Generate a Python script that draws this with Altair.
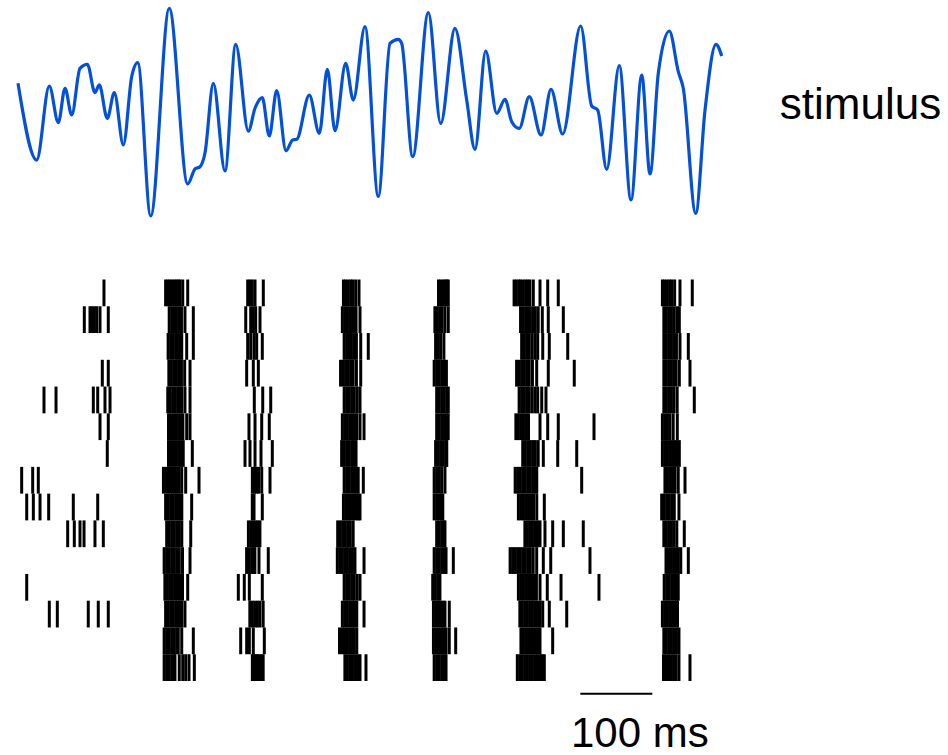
import altair as alt
import pandas as pd

# ---------------- data ----------------
# stimulus waveform (time in ms, amplitude in arbitrary units)
stim_t = [0, 26, 43.5, 56, 65.3, 74.6, 86.1, 96.3, 106.9, 112.9, 124, 133.8, 146.3, 157.9, 166.3,
          184.3, 210.1, 235.7, 245.8, 252.8, 259.7, 271.3, 287.5, 302.4, 319.9, 329.2, 339.3, 349,
          359.3, 372.2, 381.5, 387.1, 404.6, 418.5, 429.6, 440.3, 455.1, 465.7, 481.9, 500.4, 516.7,
          528.2, 532.9, 548.2, 569.9, 587.1, 606.9, 623.2, 634.7, 649.6, 664.9, 676.4, 685.7, 696.2,
          710.1, 726.4, 740.3, 756.5, 781.5, 796.8, 805.1, 817.6, 835.1, 851.4, 866.3, 877.8, 889.3,
          904.6, 917.1, 924, 941.3, 954.2, 969.4, 977.4]
stim_v = [0.276, -0.462, 0.25, -0.103, 0.228, -0.029, 0.42, 0.459, 0.186, 0.26, -0.061, 0.186, -0.317,
          0.339, 0.474, -1.0, 0.997, -0.692, -0.548, -0.526, -0.394, 0.276, -0.567, 0.651, -0.183,
          0.036, 0.1375, -0.231, 0.205, -0.372, -0.269, -0.2625, 0.163, -0.205, 0.41, -0.18, 0.468,
          0.115, 0.82, -0.8125, 0.66, 0.699, 0.66, -0.43, 0.955, -0.109, 0.805, 0.115, -0.359, 0.5865,
          -0.0125, 0.122, -0.093, -0.157, 0.147, -0.221, 0.218, -0.2115, 0.827, 0.058, 0.019, -0.551,
          0.445, -0.846, 0.356, -0.596, 0.372, 0.779, 0.3875, 0.228, -0.974, 0.019, 0.651, 0.538]

# spike times (ms) for each of the 15 trials, top to bottom
spikes = [
    [119.4, 205, 208, 211, 214, 217, 220, 222.5, 225, 228.8, 235.7, 319, 322.2, 325.4, 329.2, 340.7,
     452, 455, 458.5, 462, 465, 469, 473.6, 584, 587, 590.5, 593, 595.5, 597.6,
     689, 692, 695.5, 698, 701.5, 705, 708, 711, 715.7, 725, 735.7, 750.4,
     895, 898, 901.5, 905, 908, 912, 919.4, 936.5],
    [92.1, 100, 102.4, 106, 109.3, 113.9, 125.4, 210, 213.5, 217, 220, 223.5, 227, 231.9, 243.5,
     316.3, 323.2, 326.8, 330.1, 336.1, 450.5, 454, 457, 460.5, 464, 467, 469.5, 475,
     579, 582.5, 586, 589, 593, 597.6, 698, 701.5, 705, 708, 711.5, 715, 718.5, 722.5, 728.2, 736.5, 757.4,
     897, 900.5, 904, 907.5, 911, 915, 918.5],
    [208.5, 212, 215.5, 219, 222, 225, 227.4, 234.3, 243.5, 319, 323.2, 327.8, 331.5, 339.3,
     453, 456.5, 460, 463, 466.5, 470, 476, 486.5, 580, 583.5, 587, 591.5,
     699.5, 703, 706.5, 710, 714, 718, 721.8, 728.8, 737.9, 763.5,
     897, 900.5, 904, 907.5, 911, 914.5, 919.4, 931],
    [117.1, 125.4, 209.5, 213, 216.5, 220, 223.5, 227, 231.5, 238.9, 317.6, 326.8, 333.8,
     448, 451.5, 455, 458.5, 462, 465.5, 470, 476, 578, 581.5, 585, 588.5, 592, 595,
     692.5, 696, 699.5, 703, 706.5, 710, 714.5, 720.4, 736.5, 772.6,
     897, 900.5, 904, 907.5, 911, 914, 918.5, 933.3],
    [36.1, 52.8, 104.6, 110.7, 120.8, 127.8, 208, 211.5, 215, 218.5, 222, 225, 227.5, 231.9, 238.9,
     328.2, 339.9, 351, 453, 456.5, 460, 463.5, 467, 471, 475, 581.5, 585, 588.5, 592, 595.5, 597.6,
     696, 699.5, 703, 706.5, 710, 714, 718, 721.8, 727.4, 733.3,
     897, 900.5, 904, 907.5, 911, 915.5, 939.3],
    [113.9, 125.4, 209, 212.5, 216, 219.5, 223, 226, 229, 234.3, 238.9, 320.8, 329.2, 338.5, 349,
     450.5, 454, 457.5, 461, 464.5, 467.5, 470.5, 475, 480.6, 581.5, 585, 588.5, 592, 595, 597.5,
     691.5, 695, 698.5, 702, 705.5, 709, 725, 735.7, 750.4, 800,
     895, 898.5, 902, 905.5, 910, 915.7],
    [124, 209, 212.5, 216, 219.5, 223, 226.5, 229.5, 242.1, 315.3, 322.2, 329.2, 337.5, 353.2,
     449.5, 453, 456.5, 460, 463.5, 466.5, 469.5, 580, 583.5, 587, 590.5, 594, 595.5,
     701, 704.5, 708, 711.5, 715, 718.5, 722.5, 729.6, 749.6, 776,
     895, 898.5, 902, 905.5, 909, 912, 915, 918.5],
    [5.1, 20.4, 28.2, 202, 205.5, 209, 212, 215, 218, 220.4, 223.6, 227.4, 232.9, 251.4,
     325.5, 328.5, 331, 334, 338.5, 350, 453, 456.5, 460, 463.5, 467, 470, 472.5, 479.6,
     578, 581.5, 585, 588.5, 593, 690.5, 694, 697.5, 701, 704.5, 708, 711.5, 715, 718, 720.5, 782.9,
     898.5, 902, 905.5, 909, 912.5, 917, 926.4],
    [12.1, 21.3, 30.6, 42.6, 76.8, 110.7, 205, 208.5, 212, 215.5, 219, 222.5, 225, 227.5, 241.2,
     325.4, 327.8, 339.3, 452, 455.5, 459, 462.5, 466, 469.5, 472.5, 475, 578, 581.5, 585, 588, 590,
     695, 698.5, 702, 705.5, 709, 712.5, 716, 720.5, 731,
     894, 897.5, 901, 904.5, 908, 911.5, 918],
    [69, 78.2, 86.1, 91.7, 106.9, 118.5, 206.5, 210, 213.5, 217, 220.5, 224, 227.5, 239.9,
     320, 323.5, 327, 330, 333, 336, 444, 447.5, 451, 454.5, 458, 461.5, 465.5,
     581.5, 585, 588.5, 591.5, 593, 704, 707.5, 711, 714.5, 718, 721.5, 725, 731.9, 742.6, 757.4, 785.1,
     897, 900.5, 904, 907.5, 911, 915, 925.4],
    [203, 206.5, 210, 213.5, 217, 220.5, 224, 228.5, 238.9, 317.5, 321, 324.5, 327, 329, 334.7, 347.6,
     443.5, 447, 450.5, 454, 457.5, 461, 464.5, 468, 480.6, 578, 581.5, 585, 588.5, 592, 594.5, 604.6,
     683.5, 687, 690.5, 694, 697.5, 701, 704.5, 708, 711.5, 715.5, 720.4, 729.6, 739.9, 794.4,
     900, 903.5, 907, 910.5, 914, 917, 920.5, 931],
    [12.1, 204, 207.5, 211, 214.5, 218, 221.5, 225, 228.5, 235.7, 306, 314.3, 321.3, 339.3,
     453, 456.5, 460, 463.5, 467, 471, 475, 576, 579.5, 583, 586,
     695, 698.5, 702, 705.5, 709, 712.5, 716, 720, 725, 735.1, 754.2, 806.9,
     897.5, 901, 904.5, 908, 911.5, 914.5, 917],
    [43.5, 54.6, 97.6, 111.5, 125.4, 205, 208.5, 212, 215.5, 219, 222.5, 225.5, 227.5, 231.9,
     322, 325.5, 329, 332.5, 336, 340.5, 450.5, 454, 457.5, 461, 464.5, 467.5, 470.5, 480.6,
     577, 580.5, 584, 587.5, 590.5, 593, 599, 697, 700.5, 704, 707.5, 711, 714.5, 718, 721.5, 725,
     728.8, 737.9, 762.1, 895, 898.5, 902, 905.5, 909, 912.5, 916],
    [203, 206.5, 210, 213.5, 217, 220.5, 222.6, 227.4, 243.5, 309.3, 317.6, 321.3, 326.8, 342.1,
     446.5, 450, 453.5, 457, 460.5, 464, 467, 470.5, 577, 580.5, 584, 587.5, 591, 594.5, 599, 607.9,
     698.5, 702, 705.5, 709, 712.5, 716, 719.5, 722.5, 725, 742.6,
     897, 900.5, 904, 907.5, 911, 914.5, 918],
    [203, 206.5, 210, 213.5, 217, 218, 224, 228.8, 232.9, 237.5, 244.9,
     325.5, 327.5, 329.5, 332, 334.5, 337.5, 340.5, 454, 457.5, 461, 464.5, 468, 471.5, 475, 483.3,
     578, 581.5, 585, 588.5, 592, 594.5, 693.5, 697, 700.5, 704, 707.5, 711, 714.5, 718, 721.5, 725,
     727.5, 731, 896.5, 900, 903.5, 907, 910.5, 914, 918, 933.3],
]

scale_bar_ms = [781, 881]
scale_bar_label = "100 ms"
stim_label = "stimulus"

# ---------------- tables ----------------
stim_df = pd.DataFrame({"t": stim_t, "v": stim_v})
spk_rows = []
for i, ts in enumerate(spikes):
    for t in ts:
        spk_rows.append({"trial": i, "t": t})
spk_df = pd.DataFrame(spk_rows)
n_trials = len(spikes)

x_scale = alt.Scale(domain=[0, 1000], range=[18, 738])
stim_y = alt.Scale(domain=[-1, 1], range=[216, 8])
raster_y = alt.Scale(domain=[0, n_trials], range=[279.5, 681])

stim = alt.Chart(stim_df).mark_line(
    color="#0350DB", strokeWidth=3.2, interpolate="monotone"
).encode(
    x=alt.X("t:Q", scale=x_scale, axis=None),
    y=alt.Y("v:Q", scale=stim_y, axis=None),
)

raster = alt.Chart(spk_df).transform_calculate(
    trial_end="datum.trial + 1"
).mark_rule(color="black", strokeWidth=3, strokeCap="butt").encode(
    x=alt.X("t:Q", scale=x_scale, axis=None),
    y=alt.Y("trial:Q", scale=raster_y, axis=None),
    y2="trial_end:Q",
)

bar_df = pd.DataFrame({"t0": [scale_bar_ms[0]], "t1": [scale_bar_ms[1]], "trial": [n_trials + 0.48]})
bar = alt.Chart(bar_df).mark_rule(color="black", strokeWidth=2).encode(
    x=alt.X("t0:Q", scale=x_scale, axis=None),
    x2="t1:Q",
    y=alt.Y("trial:Q", scale=raster_y, axis=None),
)

bar_text_df = pd.DataFrame({"t": [scale_bar_ms[0] - 13], "trial": [n_trials + 2.48], "label": [scale_bar_label]})
bar_text = alt.Chart(bar_text_df).mark_text(
    align="left", baseline="alphabetic", fontSize=42, font="Liberation Sans", color="black"
).encode(
    x=alt.X("t:Q", scale=x_scale, axis=None),
    y=alt.Y("trial:Q", scale=raster_y, axis=None),
    text="label:N",
)

stim_text_df = pd.DataFrame({"t": [1058], "v": [-0.067], "label": [stim_label]})
stim_text = alt.Chart(stim_text_df).mark_text(
    align="left", baseline="alphabetic", fontSize=44, font="Liberation Sans", color="black"
).encode(
    x=alt.X("t:Q", scale=x_scale, axis=None),
    y=alt.Y("v:Q", scale=stim_y, axis=None),
    text="label:N",
)

chart = alt.layer(stim, raster, bar, bar_text, stim_text).resolve_scale(
    y="independent"
).properties(
    width=948, height=755, padding=0, autosize=alt.AutoSizeParams(type="none")
).configure_view(stroke=None)

chart.save("out.html", embed_options={"renderer": "svg", "actions": False})
